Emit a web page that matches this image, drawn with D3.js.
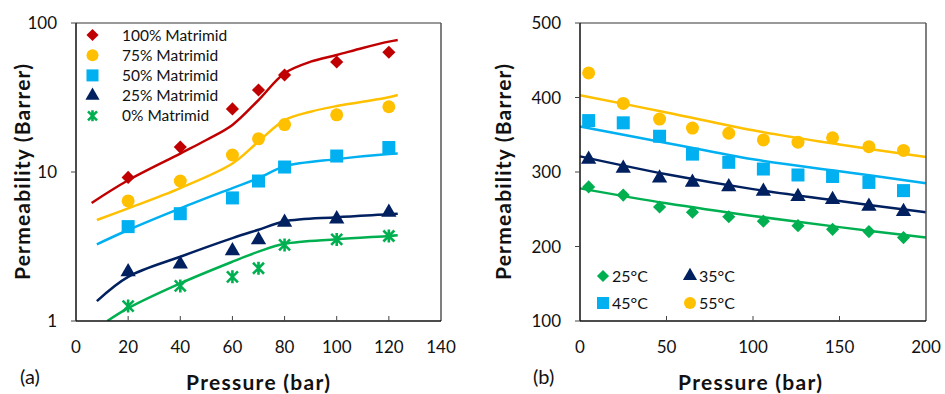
<!DOCTYPE html>
<html>
<head>
<meta charset="utf-8">
<title>Permeability vs pressure</title>
<script src="https://cdn.jsdelivr.net/npm/d3@7/dist/d3.min.js"></script>
<style>
	body { margin: 0; background: #fff; }
	svg text { font-family: Lato, "Liberation Sans", sans-serif; fill: #111; }
</style>
</head>
<body>
<svg id="chart" width="945" height="394"></svg>
<script>
// ---------- panel (a) data ----------
var pressA = [20, 40, 60, 70, 80, 100, 120];
var blendNames = ["100% Matrimid", "75% Matrimid", "50% Matrimid", "25% Matrimid", "0% Matrimid"];
var blendColors = ["#C00000", "#FFC000", "#00B0F0", "#002060", "#00B050"];
var blendShapes = ["diamond", "circle", "square", "triangle", "star"];
var m100 = [9.2, 14.7, 26.5, 35.5, 44.8, 54.7, 63.6];
var m75 = [6.4, 8.7, 13.0, 16.7, 20.8, 24.2, 27.4];
var m50 = [4.3, 5.25, 6.7, 8.7, 10.8, 12.8, 14.6];
var m25 = [2.14, 2.41, 2.96, 3.5, 4.6, 4.84, 5.37];
var m0 = [1.26, 1.72, 1.98, 2.26, 3.24, 3.53, 3.72];
// fitted curves: [pressure, permeability]
var fit100 = [[6, 6.2], [20, 8.8], [40, 13.3], [50, 16.4], [60, 20.7], [70, 30.4], [80, 46], [90, 55], [100, 61], [110, 68], [120, 75], [123.4, 77]];
var fit75 = [[8, 4.76], [20, 5.7], [40, 7.8], [60, 11.4], [70, 16], [80, 22.3], [90, 25.4], [100, 27.7], [120, 31.7], [123.4, 32.9]];
var fit50 = [[8, 3.27], [20, 4.08], [40, 5.7], [60, 7.8], [70, 9.1], [80, 10.9], [100, 12.2], [120, 13.2], [123.4, 13.3]];
var fit25 = [[8, 1.36], [20, 1.98], [40, 2.7], [60, 3.6], [70, 4.1], [80, 4.66], [100, 4.97], [120, 5.2], [123.4, 5.25]];
var fit0 = [[12, 1.0], [20, 1.22], [40, 1.79], [60, 2.5], [70, 2.92], [80, 3.3], [100, 3.54], [120, 3.72], [123.4, 3.76]];
var ticksXA = [0, 20, 40, 60, 80, 100, 120, 140];
var ticksYA = [1, 10, 100];

// ---------- panel (b) data ----------
var pressB = [5, 25, 46, 65, 86, 106, 126, 146, 167, 187];
var tempNames = ["25°C", "35°C", "45°C", "55°C"];
var tempColors = ["#00B050", "#002060", "#00B0F0", "#FFC000"];
var tempShapes = ["diamond", "triangle", "square", "circle"];
var t25 = [280, 269, 253, 246, 240, 234, 228, 223, 220, 212];
var t35 = [317, 305, 292, 286, 280, 274, 267, 263, 254, 247];
var t45 = [369, 366, 348, 324, 313, 304, 296, 294, 286, 275];
var t55 = [433, 392, 371, 359, 352, 343, 340, 346, 334, 329];
var fitT25 = [[0, 278], [50, 258], [100, 241], [150, 226], [200, 212]];
var fitT35 = [[0, 321], [50, 297], [100, 277], [150, 261], [200, 246]];
var fitT45 = [[0, 361], [50, 339], [100, 317], [150, 301], [200, 285]];
var fitT55 = [[0, 403], [50, 380], [100, 356], [150, 337], [200, 320]];
var ticksXB = [0, 50, 100, 150, 200];
var ticksYB = [100, 200, 300, 400, 500];

var svg = d3.select("#chart");

function marker(g, shape, color, size) {
	var p;
	if (shape == "circle") p = g.append("circle").attr("r", size / 2);
	else if (shape == "square") p = g.append("rect").attr("x", -size / 2).attr("y", -size / 2).attr("width", size).attr("height", size);
	else if (shape == "diamond") p = g.append("rect").attr("x", -size / 2.8).attr("y", -size / 2.8).attr("width", size / 1.4).attr("height", size / 1.4).attr("transform", "rotate(45)");
	else if (shape == "triangle") p = g.append("path").attr("d", d3.symbol(d3.symbolTriangle, size * size * 0.6)());
	else {
		var s = size / 2 - 1;
		g.append("path")
			.attr("d", "M" + (-s) + "," + (-s) + "L" + s + "," + s + "M" + (-s) + "," + s + "L" + s + "," + (-s) + "M0," + (-s - 1) + "L0," + (s + 1))
			.attr("stroke", color).attr("stroke-width", 2.6).attr("fill", "none");
		return;
	}
	p.attr("fill", color);
}

function frame(g, x0, x1, y0, y1) {
	g.append("line").attr("x1", x0).attr("x2", x1).attr("y1", y0).attr("y2", y0).attr("stroke", "#777").attr("stroke-width", 1.5);
	g.append("line").attr("x1", x1).attr("x2", x1).attr("y1", y0).attr("y2", y1).attr("stroke", "#555").attr("stroke-width", 1.5);
	g.append("line").attr("x1", x0).attr("x2", x0).attr("y1", y0).attr("y2", y1).attr("stroke", "#111").attr("stroke-width", 1.5);
	g.append("line").attr("x1", x0).attr("x2", x1).attr("y1", y1).attr("y2", y1).attr("stroke", "#111").attr("stroke-width", 1.5);
}

function titles(g, cx, ylabX, tag, tagX) {
	g.append("text").attr("x", cx).attr("y", 390).attr("text-anchor", "middle")
		.attr("font-size", 21).attr("font-weight", "bold")
		.attr("textLength", 144).text("Pressure (bar)");
	g.append("text").attr("transform", "translate(" + ylabX + ",172) rotate(-90)").attr("text-anchor", "middle")
		.attr("font-size", 21).attr("font-weight", "bold")
		.attr("textLength", 216).text("Permeability (Barrer)");
	g.append("text").attr("x", tagX).attr("y", 384).attr("font-size", 20).text(tag);
}

// ################ panel (a) ################
var xA = d3.scaleLinear().domain([0, 140]).range([76, 441]);
var yA = d3.scaleLog().domain([1, 100]).range([321, 23]);
var gA = svg.append("g");

var lineA = d3.line().x(function(d) { return xA(d[0]); }).y(function(d) { return yA(d[1]); }).curve(d3.curveCatmullRom.alpha(0.5));
var seriesA = [m100, m75, m50, m25, m0];
var fitsA = [fit100, fit75, fit50, fit25, fit0];

gA.append("clipPath").attr("id", "clipA").append("rect").attr("x", 76).attr("y", 23).attr("width", 365).attr("height", 298);
fitsA.forEach(function(f, i) {
	gA.append("path").datum(f).attr("d", lineA).attr("fill", "none")
		.attr("stroke", blendColors[i]).attr("stroke-width", 2.5).attr("clip-path", "url(#clipA)");
});
seriesA.forEach(function(s, i) {
	s.forEach(function(v, j) {
		var m = gA.append("g").attr("transform", "translate(" + xA(pressA[j]) + "," + yA(v) + ")");
		marker(m, blendShapes[i], blendColors[i], 13);
	});
});

frame(gA, 76, 441, 23, 321);
// ticks: x inside, y outside
ticksXA.slice(1, -1).forEach(function(t) {
	gA.append("line").attr("x1", xA(t)).attr("x2", xA(t)).attr("y1", 321).attr("y2", 316).attr("stroke", "#444");
});
ticksYA.forEach(function(t) {
	gA.append("line").attr("x1", 71).attr("x2", 76).attr("y1", yA(t)).attr("y2", yA(t)).attr("stroke", "#444");
});
gA.selectAll(".xt").data(ticksXA).enter().append("text")
	.attr("x", function(d) { return xA(d); }).attr("y", 353)
	.attr("text-anchor", "middle").attr("font-size", 17).text(function(d) { return d; });
gA.selectAll(".yt").data(ticksYA).enter().append("text")
	.attr("x", 57).attr("y", function(d) { return yA(d) + 6; })
	.attr("text-anchor", "end").attr("font-size", 17).text(function(d) { return d; });

blendNames.forEach(function(n, i) {
	var y = 35 + i * 20.2;
	var m = gA.append("g").attr("transform", "translate(92.5," + y + ")");
	marker(m, blendShapes[i], blendColors[i], i == 4 ? 11 : 12);
	gA.append("text").attr("x", 122).attr("y", y + 5.5).attr("font-size", 15.5).text(n);
});

titles(gA, 258, 30, "(a)", 20);

// ################ panel (b) ################
var xB = d3.scaleLinear().domain([0, 200]).range([580, 926]);
var yB = d3.scaleLinear().domain([100, 500]).range([321, 23]);
var gB = svg.append("g");

var lineB = d3.line().x(function(d) { return xB(d[0]); }).y(function(d) { return yB(d[1]); }).curve(d3.curveCatmullRom.alpha(0.5));
var seriesB = [t25, t35, t45, t55];
var fitsB = [fitT25, fitT35, fitT45, fitT55];

fitsB.forEach(function(f, i) {
	gB.append("path").datum(f).attr("d", lineB).attr("fill", "none")
		.attr("stroke", tempColors[i]).attr("stroke-width", 2.5);
});
seriesB.forEach(function(s, i) {
	s.forEach(function(v, j) {
		var m = gB.append("g").attr("transform", "translate(" + xB(pressB[j]) + "," + yB(v) + ")");
		marker(m, tempShapes[i], tempColors[i], 13);
	});
});

frame(gB, 580, 926, 23, 321);
ticksXB.slice(1, -1).forEach(function(t) {
	gB.append("line").attr("x1", xB(t)).attr("x2", xB(t)).attr("y1", 321).attr("y2", 316).attr("stroke", "#444");
});
ticksYB.forEach(function(t) {
	gB.append("line").attr("x1", 575).attr("x2", 580).attr("y1", yB(t)).attr("y2", yB(t)).attr("stroke", "#444");
});
gB.selectAll(".xt").data(ticksXB).enter().append("text")
	.attr("x", function(d) { return xB(d); }).attr("y", 353)
	.attr("text-anchor", "middle").attr("font-size", 17).text(function(d) { return d; });
gB.selectAll(".yt").data(ticksYB).enter().append("text")
	.attr("x", 561).attr("y", function(d) { return yB(d) + 6; })
	.attr("text-anchor", "end").attr("font-size", 17).text(function(d) { return d; });

tempNames.forEach(function(n, i) {
	var cx = i % 2 == 0 ? 603 : 690;
	var y = i < 2 ? 276 : 303;
	var m = gB.append("g").attr("transform", "translate(" + cx + "," + y + ")");
	marker(m, tempShapes[i], tempColors[i], 12);
	gB.append("text").attr("x", cx + 9).attr("y", y + 5.5).attr("font-size", 16).text(n);
});

titles(gB, 750, 511, "(b)", 533);
</script>
</body>
</html>
